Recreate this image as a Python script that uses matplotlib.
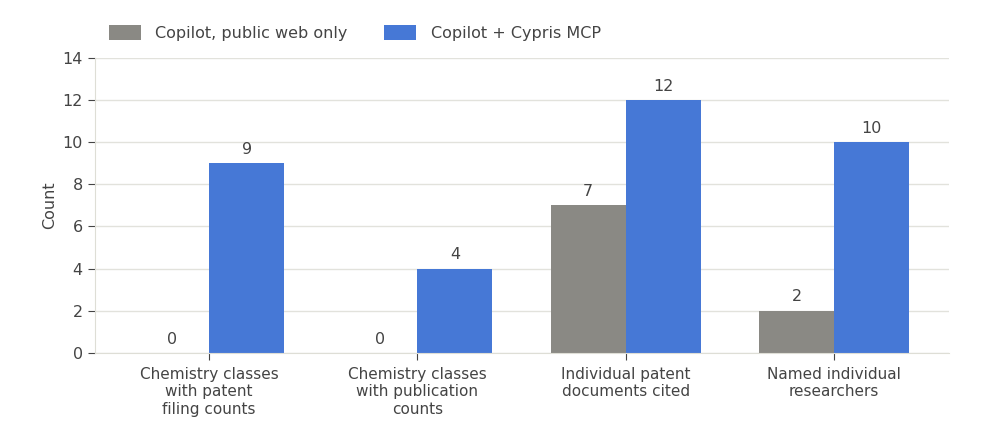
import matplotlib.pyplot as plt
import numpy as np

categories = ["Chemistry classes\nwith patent\nfiling counts",
              "Chemistry classes\nwith publication\ncounts",
              "Individual patent\ndocuments cited",
              "Named individual\nresearchers"]
web_only = [0, 0, 7, 2]
with_mcp = [9, 4, 12, 10]
series_names = ["Copilot, public web only", "Copilot + Cypris MCP"]

txt = "#444444"
plt.rcParams["font.family"] = "DejaVu Sans"
plt.rcParams["font.size"] = 11

fig = plt.figure(figsize=(10.07, 4.45), dpi=100)
ax = fig.add_axes([0.094, 0.207, 0.848, 0.663])

x = np.arange(len(categories))
w = 0.36
b1 = ax.bar(x - w / 2, web_only, w, color="#8a8984", label=series_names[0], zorder=2)
b2 = ax.bar(x + w / 2, with_mcp, w, color="#4678d6", label=series_names[1], zorder=2)

for bars in (b1, b2):
    for r in bars:
        ax.text(r.get_x() + r.get_width() / 2, r.get_height() + 0.3, str(int(r.get_height())),
                ha="center", va="bottom", color=txt, fontsize=11.5)

ax.set_xlim(-0.55, 3.55)
ax.set_ylim(0, 14)
ax.set_yticks(range(0, 15, 2))
ax.set_xticks(x)
ax.set_xticklabels(categories, color=txt, fontsize=11)
ax.tick_params(axis="y", colors=txt, labelsize=11.5, length=5)
ax.tick_params(axis="x", colors=txt, length=5, pad=5)
ax.set_ylabel("Count", color=txt, fontsize=11.5)
ax.grid(axis="y", color="#e2e2dc", linewidth=1, zorder=0)
for s in ("top", "right"):
    ax.spines[s].set_visible(False)
for s in ("left", "bottom"):
    ax.spines[s].set_color("#deded6")

ax.legend(loc="lower left", bbox_to_anchor=(0.0, 1.008), ncol=2, frameon=False,
          fontsize=11.5, labelcolor=txt, handlelength=2.0, handleheight=1.0,
          handletextpad=0.9, columnspacing=2.3)

fig.savefig("out.png")
